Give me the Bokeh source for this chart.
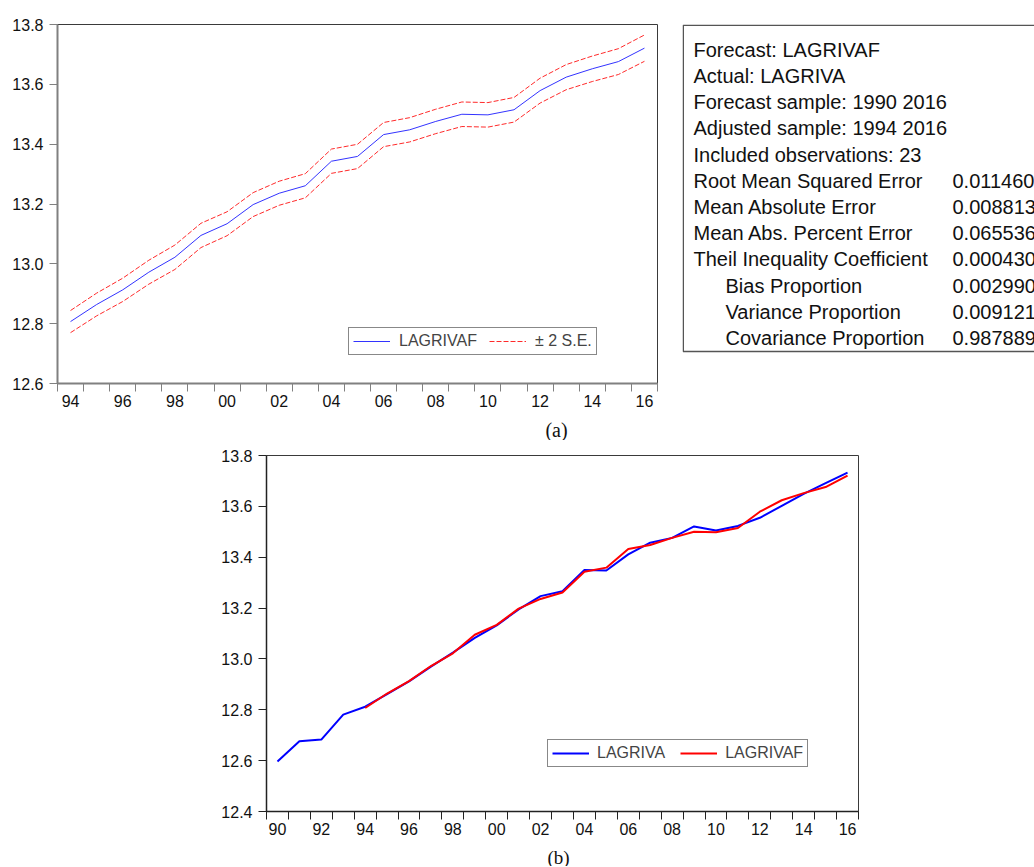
from bokeh.plotting import figure
from bokeh.models import (Range1d, FixedTicker, NumeralTickFormatter, Legend,
                          LegendItem)
from bokeh.layouts import column, row
from bokeh.core.properties import value
from bokeh.embed import file_html
from bokeh.resources import INLINE

# ---------------- data ----------------
years_actual = list(range(1990, 2017))
lagriva = [12.597, 12.676, 12.683, 12.781, 12.812, 12.862, 12.912, 12.970,
           13.025, 13.083, 13.132, 13.195, 13.247, 13.266, 13.350, 13.348,
           13.411, 13.457, 13.476, 13.521, 13.505, 13.523, 13.555, 13.602,
           13.649, 13.691, 13.733]

years_forecast = list(range(1994, 2017))
lagrivaf = [12.807, 12.864, 12.913, 12.972, 13.022, 13.095, 13.134, 13.198,
            13.236, 13.261, 13.343, 13.359, 13.432, 13.448, 13.476, 13.500,
            13.498, 13.515, 13.579, 13.624, 13.652, 13.676, 13.721]
forecast_se = [0.0185, 0.0190, 0.0195, 0.0200, 0.0204, 0.0203, 0.0200, 0.0200,
               0.0201, 0.0202, 0.0203, 0.0203, 0.0202, 0.0203, 0.0204, 0.0205,
               0.0205, 0.0206, 0.0208, 0.0210, 0.0213, 0.0216, 0.0220]

a_xticks = [1994, 1996, 1998, 2000, 2002, 2004, 2006, 2008, 2010, 2012, 2014, 2016]
a_xlabels = ["94", "96", "98", "00", "02", "04", "06", "08", "10", "12", "14", "16"]
b_xticks = [1990, 1992] + a_xticks
b_xlabels = ["90", "92"] + a_xlabels
a_yticks = [12.6, 12.8, 13.0, 13.2, 13.4, 13.6, 13.8]
b_yticks = [12.4, 12.6, 12.8, 13.0, 13.2, 13.4, 13.6, 13.8]

stat_names = ["Forecast: LAGRIVAF", "Actual: LAGRIVA",
              "Forecast sample: 1990 2016", "Adjusted sample: 1994 2016",
              "Included observations: 23", "Root Mean Squared Error",
              "Mean Absolute Error", "Mean Abs. Percent Error",
              "Theil Inequality Coefficient", "Bias Proportion",
              "Variance Proportion", "Covariance Proportion"]
stat_values = ["", "", "", "", "", "0.011460", "0.008813", "0.065536",
               "0.000430", "0.002990", "0.009121", "0.987889"]
stat_indent = [False] * 9 + [True] * 3

upper = [f + 2 * s for f, s in zip(lagrivaf, forecast_se)]
lower = [f - 2 * s for f, s in zip(lagrivaf, forecast_se)]

FONT = "Liberation Sans"
SERIF = "Liberation Serif"


def style(p, years, xticks, xlabels, yticks, axis_color, axis_width):
    minor = [y - 0.5 for y in years] + [years[-1] + 0.5]
    p.xaxis.ticker = FixedTicker(ticks=xticks, minor_ticks=minor)
    p.xaxis.major_label_overrides = {t: l for t, l in zip(xticks, xlabels)}
    p.xaxis.major_tick_out = 0
    p.xaxis.major_tick_in = 0
    p.xaxis.minor_tick_out = 8
    p.xaxis.minor_tick_in = 0
    p.xaxis.minor_tick_line_color = axis_color
    p.xaxis.major_label_standoff = 3
    p.yaxis.ticker = FixedTicker(ticks=yticks)
    p.yaxis.formatter = NumeralTickFormatter(format="0.0")
    p.yaxis.major_tick_out = 8
    p.yaxis.major_tick_in = 0
    p.yaxis.major_tick_line_color = axis_color
    p.yaxis.major_label_standoff = 6
    for ax in (p.xaxis, p.yaxis):
        ax.axis_line_color = axis_color
        ax.axis_line_width = axis_width
        ax.major_label_text_font = FONT
        ax.major_label_text_font_size = "16px"
        ax.major_label_text_color = "#111111"
    p.xgrid.visible = False
    p.ygrid.visible = False
    p.outline_line_color = "#3a3a3a"
    p.outline_line_width = 1


def blank(p):
    p.axis.visible = False
    p.xgrid.visible = False
    p.ygrid.visible = False
    p.outline_line_color = None


# ---------------- chart (a) ----------------
pa = figure(width=682, height=420, x_range=Range1d(1993.5, 2016.5),
            y_range=Range1d(12.6, 13.8), output_backend="svg",
            toolbar_location=None, min_border_left=57, min_border_right=25,
            min_border_top=24, min_border_bottom=37)
style(pa, years_forecast, a_xticks, a_xlabels, a_yticks, "#808080", 2)
ru = pa.line(years_forecast, upper, line_color="#ff2a2a", line_width=1, line_dash="5 2")
rl = pa.line(years_forecast, lower, line_color="#ff2a2a", line_width=1, line_dash="5 2")
rf = pa.line(years_forecast, lagrivaf, line_color="#3333ff", line_width=1)
leg_a = Legend(items=[LegendItem(label="LAGRIVAF", renderers=[rf]),
                      LegendItem(label="± 2 S.E.", renderers=[ru])],
               orientation="horizontal", location=(291, 28), padding=4,
               spacing=12, glyph_width=37, glyph_height=16, label_standoff=9,
               label_height=16, margin=0,
               label_text_font=FONT, label_text_font_size="16px",
               border_line_color="#111111", border_line_width=1)
pa.add_layout(leg_a)

# ---------------- statistics box (page pixel coordinates) ----------------
ps = figure(width=352, height=420, x_range=Range1d(682, 1034),
            y_range=Range1d(383, 24), output_backend="svg",
            toolbar_location=None, min_border_left=0, min_border_right=0,
            min_border_top=24, min_border_bottom=37)
blank(ps)
ps.quad(left=682.75, right=1100, top=24.75, bottom=351, fill_color=None,
        line_color="#555555", line_width=1.5)
name_x = [725 if ind else 693 for ind in stat_indent]
line_y = [49.3 + 26.2 * i for i in range(len(stat_names))]
ps.text(x=name_x, y=line_y, text=stat_names, text_font=value(FONT),
        text_font_size="20px", text_baseline="alphabetic", text_color="#111111")
ps.text(x=[952] * len(stat_values), y=line_y, text=stat_values,
        text_font=value(FONT), text_font_size="20px",
        text_baseline="alphabetic", text_color="#111111")

# ---------------- caption (a) (frame aligned with chart (b): x 266..858) ----
ca = figure(width=1034, height=20, x_range=Range1d(266, 858),
            y_range=Range1d(440, 420), output_backend="svg",
            toolbar_location=None, min_border_left=266, min_border_right=176,
            min_border_top=0, min_border_bottom=0)
blank(ca)
ca.text(x=[556], y=[429], text=["(a)"], text_font=value(SERIF),
        text_font_size="20px", text_align="center", text_baseline="middle",
        text_color="#111111")

# ---------------- chart (b) ----------------
pb = figure(width=1034, height=407, x_range=Range1d(1989.5, 2016.5),
            y_range=Range1d(12.4, 13.8), output_backend="svg",
            toolbar_location=None, min_border_left=266, min_border_right=176,
            min_border_top=15, min_border_bottom=36)
style(pb, years_actual, b_xticks, b_xlabels, b_yticks, "#222222", 1.5)
rb_a = pb.line(years_actual, lagriva, line_color="#0000ff", line_width=2)
rb_f = pb.line(years_forecast, lagrivaf, line_color="#ff0000", line_width=2)
leg_b = Legend(items=[LegendItem(label="LAGRIVA", renderers=[rb_a]),
                      LegendItem(label="LAGRIVAF", renderers=[rb_f])],
               orientation="horizontal", location=(281, 44), padding=4,
               spacing=15, glyph_width=37, glyph_height=16, label_standoff=8,
               label_height=16, margin=0,
               label_text_font=FONT, label_text_font_size="16px",
               border_line_color="#111111", border_line_width=1)
pb.add_layout(leg_b)

# ---------------- caption (b) ----------------
cb = figure(width=1034, height=19, x_range=Range1d(266, 858),
            y_range=Range1d(866, 847), output_backend="svg",
            toolbar_location=None, min_border_left=266, min_border_right=176,
            min_border_top=0, min_border_bottom=0)
blank(cb)
cb.text(x=[558], y=[856.5], text=["(b)"], text_font=value(SERIF),
        text_font_size="19px", text_align="center", text_baseline="middle",
        text_color="#111111")

layout = column(row(pa, ps), ca, pb, cb)
open("out.html", "w").write(file_html(layout, INLINE))
